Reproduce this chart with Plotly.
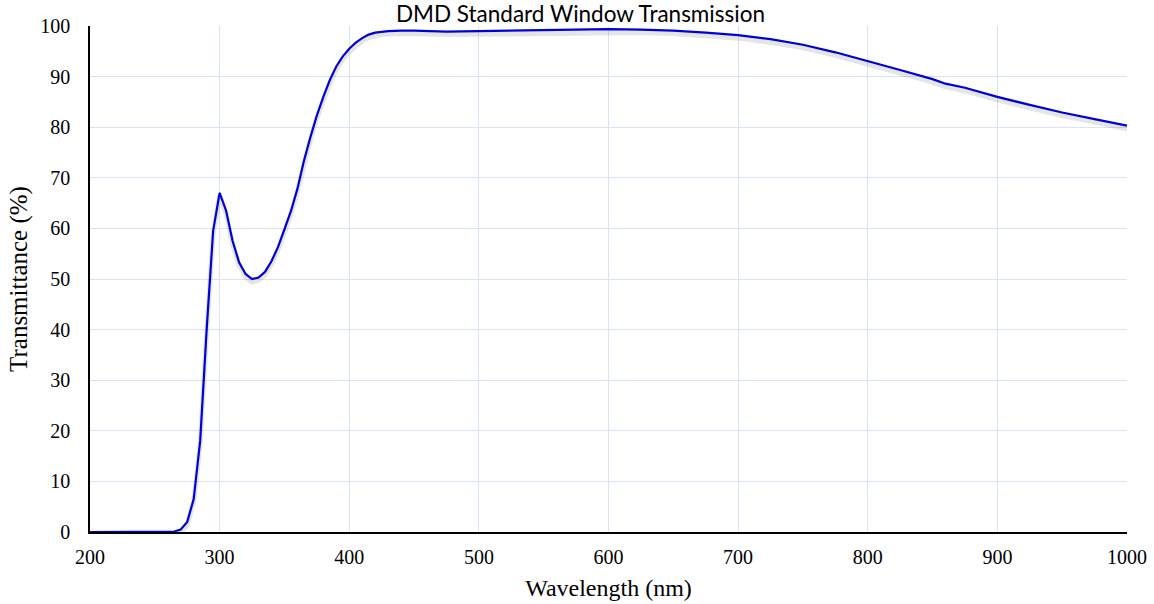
import plotly.graph_objects as go

# Window transmission spectrum
wavelength_nm = [200, 220, 240, 255, 260, 265, 270, 275, 280, 285, 290, 295, 300, 305, 310,
                 315, 320, 325, 330, 335, 340, 345, 350, 355, 360, 365, 370, 375, 380, 385,
                 390, 395, 400, 405, 410, 415, 420, 425, 430, 440, 450, 475, 500, 525, 550,
                 575, 600, 625, 650, 675, 700, 725, 750, 775, 800, 825, 850, 860, 875, 900,
                 925, 950, 975, 1000]
transmittance_pct = [0.0, 0.0, 0.0, 0.0, 0.0, 0.1, 0.5, 2.0, 6.5, 18.0, 40.0, 59.5, 67.0, 63.5, 57.5,
                     53.3, 51.0, 50.0, 50.3, 51.4, 53.5, 56.3, 59.8, 63.4, 67.8, 73.3, 78.0, 82.3, 86.0, 89.3,
                     92.0, 94.0, 95.5, 96.7, 97.6, 98.3, 98.7, 98.9, 99.0, 99.1, 99.1, 98.9, 99.0, 99.1, 99.2,
                     99.3, 99.4, 99.3, 99.1, 98.7, 98.2, 97.4, 96.3, 94.8, 93.1, 91.3, 89.5, 88.6, 87.8, 86.0,
                     84.4, 82.9, 81.6, 80.3]

x_ticks = [200, 300, 400, 500, 600, 700, 800, 900, 1000]
y_ticks = [0, 10, 20, 30, 40, 50, 60, 70, 80, 90, 100]

serif = "Liberation Serif, Times New Roman, serif"
grid_color = "#d8e4f5"

fig = go.Figure()

# soft drop shadow under the curve
fig.add_trace(go.Scatter(
    x=wavelength_nm, y=[v - 0.6 for v in transmittance_pct],
    mode="lines", line=dict(color="rgba(0,0,0,0.10)", width=5),
    hoverinfo="skip", showlegend=False,
))
fig.add_trace(go.Scatter(
    x=wavelength_nm, y=transmittance_pct,
    mode="lines", line=dict(color="#0000d8", width=2.2),
    showlegend=False,
))

fig.update_layout(
    width=1154, height=604,
    paper_bgcolor="white", plot_bgcolor="white",
    margin=dict(l=90, r=27, t=26, b=72),
    title=dict(text="DMD Standard Window Transmission", x=0.503, xref="container",
               y=0.977, yref="container", yanchor="middle",
               pad=dict(t=0, b=0, l=0, r=0),
               font=dict(family="Lato, Open Sans, sans-serif", size=22.5, color="black")),
    font=dict(family=serif, size=20, color="black"),
)

fig.update_xaxes(
    range=[200, 1000], tickvals=x_ticks, ticktext=[str(t) for t in x_ticks],
    showgrid=True, gridcolor=grid_color, gridwidth=1.3,
    showline=True, linecolor="black", linewidth=1.5,
    ticks="outside", ticklen=6, tickcolor="rgba(0,0,0,0)",
    zeroline=False, automargin=False,
    title=dict(text="Wavelength (nm)", font=dict(family=serif, size=24), standoff=12),
)
fig.update_yaxes(
    range=[0, 100], tickvals=y_ticks, ticktext=[str(t) for t in y_ticks],
    showgrid=True, gridcolor=grid_color, gridwidth=1.3,
    showline=True, linecolor="black", linewidth=1.5,
    ticks="outside", ticklen=14, tickcolor="rgba(0,0,0,0)",
    zeroline=False, automargin=False,
    title=dict(text="Transmittance (%)", font=dict(family=serif, size=25), standoff=6),
)

fig.write_html("out.html")
